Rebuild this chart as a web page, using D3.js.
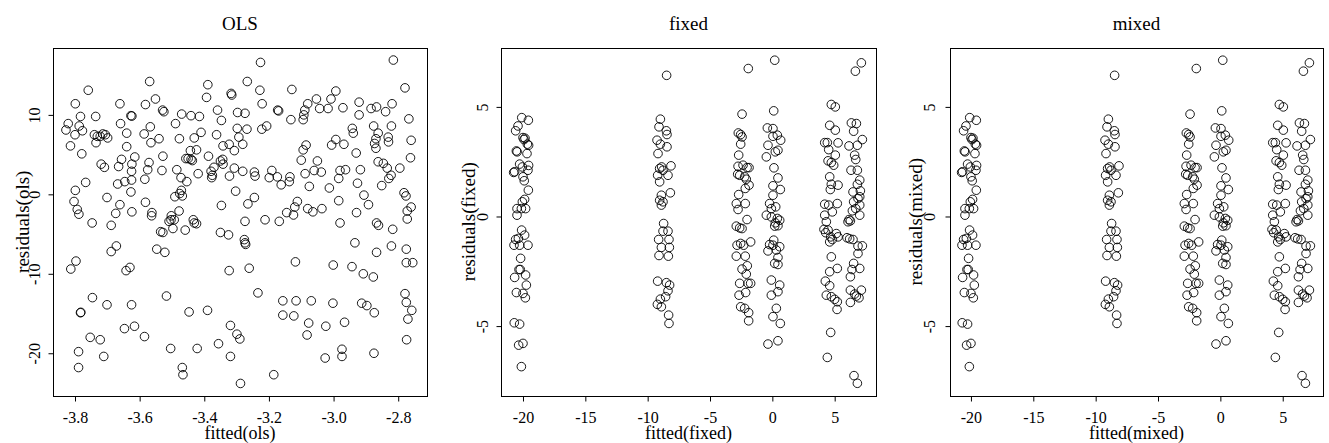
<!DOCTYPE html>
<html>
<head>
<meta charset="utf-8">
<script src="https://cdn.jsdelivr.net/npm/d3@7"></script>
<style>
  html, body { margin: 0; padding: 0; background: #fff; }
  svg { display: block; }
  text { font-family: "Liberation Serif", "DejaVu Serif", serif; fill: #000; }
</style>
</head>
<body>
<svg id="chart" width="1329" height="443"></svg>
<script>
// ---------------- data ----------------
const panelTitles = ["OLS", "fixed", "mixed"];
const xLabels = ["fitted(ols)", "fitted(fixed)", "fitted(mixed)"];
const yLabels = ["residuals(ols)", "residuals(fixed)", "residuals(mixed)"];

const olsXTicks = [-3.8, -3.6, -3.4, -3.2, -3.0, -2.8];
const olsYTicks = [-20, -10, 0, 10];
const lmmXTicks = [-20, -15, -10, -5, 0, 5];
const lmmYTicks = [-5, 0, 5];

// [fitted, residual]
const olsPoints = [[-2.815,16.9],[-3.226,16.6],[-3.569,14.2],[-3.389,13.8],[-3.267,14.2],[-3.759,13.1],[-3.317,12.7],[-3.315,12.5],[-3.228,13.1],[-3.129,13.2],[-2.993,13.0],[-2.779,13.4],[-3.393,12.2],[-3.551,12.0],[-3.053,12.0],[-3.008,12.0],[-3.799,11.4],[-3.661,11.4],[-3.582,11.3],[-3.221,11.4],[-2.921,11.6],[-2.819,11.4],[-3.080,11.4],[-3.529,10.6],[-3.525,10.4],[-3.359,10.6],[-3.173,10.6],[-3.170,10.5],[-3.089,10.6],[-3.043,10.8],[-3.017,10.8],[-2.971,10.9],[-2.884,10.8],[-2.867,11.0],[-2.839,10.4],[-3.274,10.2],[-3.297,10.3],[-3.470,10.1],[-3.441,9.9],[-3.627,9.9],[-3.624,9.85],[-3.783,9.8],[-3.736,9.8],[-3.092,10.0],[-3.094,9.4],[-2.921,10.0],[-2.767,9.5],[-3.132,9.4],[-3.347,9.3],[-3.415,9.8],[-3.489,8.9],[-3.659,8.9],[-3.821,8.9],[-3.207,8.6],[-3.222,8.2],[-3.787,8.6],[-3.567,8.5],[-3.298,8.3],[-3.268,8.2],[-2.942,8.3],[-2.876,8.6],[-2.821,8.6],[-3.828,8.1],[-3.777,8.0],[-3.800,7.5],[-3.740,7.5],[-3.640,7.7],[-3.586,7.6],[-3.410,7.8],[-3.362,7.5],[-2.939,7.7],[-2.862,7.7],[-3.722,7.3],[-3.714,7.6],[-3.706,7.5],[-3.731,7.3],[-3.699,7.1],[-3.735,6.5],[-3.540,7.0],[-3.477,7.0],[-3.431,7.1],[-3.293,7.2],[-2.993,6.9],[-2.831,7.2],[-2.760,6.8],[-2.869,7.0],[-2.873,6.4],[-2.830,6.6],[-3.565,6.5],[-3.281,6.3],[-3.323,6.3],[-3.085,6.2],[-2.968,6.3],[-3.006,6.2],[-3.342,6.1],[-3.814,6.1],[-3.640,6.0],[-3.094,5.6],[-2.869,5.8],[-3.307,5.5],[-3.443,5.5],[-3.424,5.6],[-2.930,5.2],[-3.779,5.1],[-3.528,4.8],[-3.387,4.8],[-3.615,4.7],[-3.450,4.5],[-3.441,4.4],[-3.437,4.25],[-3.457,4.5],[-3.343,4.4],[-2.762,4.6],[-3.656,4.4],[-3.100,4.3],[-3.350,4.2],[-3.050,4.2],[-2.862,4.1],[-2.846,3.9],[-3.571,4.0],[-3.719,3.8],[-3.624,3.8],[-3.709,3.4],[-3.665,3.5],[-3.342,3.8],[-3.370,3.4],[-2.795,3.3],[-2.834,3.3],[-3.307,3.3],[-3.575,3.1],[-3.531,3.0],[-3.485,3.1],[-3.379,2.9],[-3.281,2.9],[-3.245,2.8],[-3.191,3.0],[-2.980,3.0],[-2.963,3.1],[-2.917,3.1],[-3.625,2.9],[-3.088,2.6],[-3.060,3.0],[-3.038,2.8],[-3.419,2.6],[-3.375,2.4],[-3.322,2.3],[-3.243,2.3],[-2.822,2.4],[-2.829,2.0],[-3.472,2.1],[-3.377,2.1],[-3.174,2.2],[-3.199,2.1],[-3.135,2.2],[-3.137,1.6],[-3.625,1.8],[-3.584,1.9],[-2.984,2.0],[-3.767,1.5],[-3.646,1.6],[-3.454,1.6],[-3.162,1.2],[-3.668,1.3],[-2.926,1.4],[-2.851,1.1],[-3.075,1.0],[-3.013,0.8],[-3.471,0.5],[-3.799,0.5],[-3.627,0.3],[-3.303,0.4],[-3.476,0.1],[-2.782,0.2],[-3.491,-0.3],[-3.468,-0.2],[-3.701,-0.4],[-2.906,-0.1],[-2.776,-0.2],[-3.245,-0.4],[-3.803,-0.9],[-3.112,-0.9],[-2.984,-0.8],[-2.892,-1.3],[-3.265,-1.2],[-3.347,-1.4],[-3.661,-1.3],[-3.582,-1.0],[-3.120,-1.6],[-2.760,-1.6],[-3.793,-1.9],[-3.788,-2.5],[-3.080,-1.8],[-3.064,-2.2],[-3.036,-1.8],[-3.478,-2.1],[-3.624,-2.2],[-2.772,-2.1],[-3.562,-2.3],[-3.563,-2.7],[-3.674,-2.4],[-3.145,-2.3],[-3.124,-2.6],[-2.929,-2.3],[-3.502,-2.7],[-3.503,-3.2],[-3.493,-3.2],[-3.509,-3.4],[-3.274,-3.4],[-3.212,-3.2],[-3.168,-3.4],[-3.434,-3.2],[-3.431,-3.6],[-3.424,-3.7],[-2.772,-3.1],[-2.980,-3.6],[-2.867,-3.6],[-2.861,-3.9],[-3.747,-3.6],[-3.688,-3.9],[-3.497,-4.3],[-2.817,-4.4],[-3.459,-4.5],[-3.535,-4.7],[-3.528,-4.8],[-3.350,-4.8],[-3.325,-5.1],[-3.276,-5.7],[-3.274,-6.1],[-3.272,-6.3],[-2.934,-6.1],[-2.821,-6.5],[-3.672,-6.5],[-3.547,-6.9],[-3.522,-7.3],[-3.688,-7.2],[-2.775,-6.9],[-2.867,-7.3],[-3.797,-8.4],[-3.118,-8.5],[-2.775,-8.6],[-2.755,-8.6],[-3.813,-9.4],[-3.642,-9.6],[-3.630,-9.2],[-3.261,-9.3],[-3.001,-8.9],[-2.943,-9.1],[-3.323,-9.6],[-2.908,-10.0],[-2.877,-10.4],[-3.234,-12.4],[-3.517,-12.8],[-3.746,-13.0],[-2.779,-12.5],[-3.157,-13.4],[-3.116,-13.4],[-3.069,-13.4],[-2.775,-13.6],[-3.002,-13.7],[-2.913,-13.7],[-2.897,-14.0],[-3.701,-13.9],[-3.625,-13.9],[-3.783,-14.9],[-3.782,-14.85],[-3.447,-14.8],[-3.390,-14.6],[-2.874,-14.9],[-2.758,-14.6],[-3.157,-15.2],[-3.123,-15.3],[-2.770,-15.7],[-2.966,-16.1],[-3.077,-16.2],[-3.319,-16.5],[-3.616,-16.6],[-3.647,-16.9],[-3.024,-16.6],[-3.299,-17.6],[-3.290,-18.2],[-3.082,-17.7],[-3.585,-17.9],[-3.753,-18.0],[-3.722,-18.3],[-2.774,-18.3],[-3.356,-18.8],[-3.504,-19.4],[-3.422,-19.4],[-2.974,-19.5],[-3.789,-19.8],[-2.875,-20.0],[-2.974,-20.4],[-3.711,-20.4],[-3.319,-20.4],[-3.026,-20.6],[-3.789,-21.8],[-3.468,-21.8],[-3.466,-22.7],[-3.185,-22.7],[-3.288,-23.8]];

const fixedPoints = [
 // group near -20
 [-20.1,4.51],[-19.57,4.39],[-20.4,4.13],[-20.59,3.91],[-20.0,3.60],[-19.92,3.51],[-19.84,3.57],[-19.65,3.30],[-19.55,3.25],[-20.53,2.99],[-20.47,2.95],[-19.68,2.87],[-20.27,2.39],[-19.55,2.33],[-20.67,2.04],[-20.75,2.01],[-20.05,2.26],[-19.60,2.11],[-20.0,1.81],[-19.9,1.63],[-19.57,1.20],[-19.87,0.78],[-20.05,0.67],[-20.48,0.36],[-20.13,0.36],[-19.79,0.36],[-20.48,0.06],[-20.11,-0.62],[-19.87,-0.85],[-20.59,-1.05],[-20.37,-1.00],[-20.72,-1.31],[-20.27,-1.31],[-19.60,-1.31],[-20.19,-1.91],[-20.32,-2.42],[-20.22,-2.42],[-19.79,-2.67],[-20.67,-2.78],[-19.73,-3.13],[-20.53,-3.47],[-20.0,-3.51],[-19.81,-3.71],[-20.70,-4.85],[-20.27,-4.91],[-20.35,-5.87],[-20.0,-5.79],[-20.13,-6.85],
 // group near -9
 [-8.48,6.44],[-8.98,4.44],[-9.09,4.09],[-8.50,3.91],[-8.45,3.74],[-9.25,3.48],[-8.98,3.30],[-8.45,3.18],[-9.17,2.87],[-8.88,2.26],[-9.04,2.19],[-8.77,2.11],[-8.13,2.31],[-9.20,1.88],[-8.37,1.88],[-9.04,1.58],[-8.18,1.08],[-8.90,0.97],[-9.04,0.74],[-8.77,0.67],[-8.90,0.52],[-8.72,-0.32],[-8.77,-0.67],[-8.37,-0.67],[-9.12,-1.05],[-8.29,-1.05],[-8.90,-1.41],[-8.26,-1.41],[-9.09,-1.78],[-8.34,-1.81],[-9.20,-2.95],[-8.50,-3.02],[-8.24,-3.13],[-8.37,-3.39],[-8.56,-3.66],[-8.98,-3.77],[-9.22,-4.01],[-8.90,-4.12],[-8.32,-4.50],[-8.29,-4.88],
 // group near -2.5
 [-1.93,6.75],[-2.43,4.67],[-2.73,3.81],[-2.54,3.74],[-2.43,3.63],[-2.54,3.30],[-2.70,2.80],[-2.75,2.29],[-2.35,2.34],[-2.03,2.23],[-1.87,2.23],[-2.78,1.93],[-2.62,1.88],[-2.22,1.81],[-2.09,1.70],[-1.87,1.43],[-2.17,1.28],[-2.70,1.00],[-2.89,0.59],[-2.17,0.59],[-2.75,0.32],[-2.03,-0.14],[-2.89,-0.44],[-2.62,-0.52],[-2.43,-0.55],[-1.74,-1.16],[-2.83,-1.31],[-2.54,-1.23],[-2.30,-1.31],[-2.89,-1.81],[-2.17,-1.81],[-2.43,-2.40],[-2.01,-2.25],[-2.09,-2.63],[-2.62,-3.05],[-1.95,-3.05],[-1.74,-3.05],[-2.14,-3.47],[-2.67,-3.59],[-2.54,-4.12],[-2.22,-4.19],[-1.90,-4.39],[-1.90,-4.76],
 // group near 0
 [0.19,7.13],[0.11,4.82],[-0.40,4.04],[0.05,4.01],[0.05,3.66],[0.40,3.71],[0.67,3.48],[-0.35,3.25],[0.45,3.02],[0.24,2.95],[-0.48,2.72],[0.13,2.22],[0.45,1.76],[0.05,1.40],[0.64,1.23],[0.05,0.97],[-0.22,0.59],[0.27,0.44],[-0.08,0.36],[-0.48,0.06],[-0.08,-0.02],[0.40,-0.09],[0.59,-0.17],[0.24,-0.29],[0.19,-0.44],[0.45,-0.42],[0.11,-1.08],[-0.22,-1.28],[0.05,-1.31],[0.59,-1.38],[-0.35,-1.57],[0.32,-1.53],[0.45,-1.87],[0.19,-2.14],[0.45,-2.19],[-0.08,-2.90],[0.59,-3.13],[-0.08,-3.59],[0.45,-3.43],[0.32,-4.19],[0.05,-4.57],[0.64,-4.88],[-0.35,-5.82],[0.45,-5.67],
 // group near 4.6
 [4.73,5.11],[5.05,5.0],[4.60,4.16],[5.05,3.94],[4.20,3.37],[4.41,3.37],[5.27,3.36],[4.52,3.05],[5.05,2.80],[4.47,2.54],[4.73,2.46],[4.92,2.34],[4.60,1.81],[4.73,1.47],[5.27,1.43],[4.65,1.23],[5.21,0.59],[4.20,0.56],[4.52,0.52],[4.81,0.21],[4.20,0.06],[4.33,-0.24],[4.14,-0.59],[4.47,-0.62],[4.28,-0.74],[4.68,-0.93],[5.13,-0.78],[5.27,-0.93],[4.81,-1.05],[4.60,-1.16],[4.73,-1.84],[5.21,-2.37],[4.60,-2.52],[4.25,-2.95],[4.60,-3.16],[4.33,-3.59],[4.73,-3.66],[5.00,-3.78],[5.21,-3.89],[5.19,-4.24],[4.68,-5.29],[4.41,-6.43],
 // group near 6.7
 [7.14,7.01],[6.66,6.63],[6.34,4.27],[6.74,4.24],[6.52,3.89],[7.22,3.51],[6.15,3.22],[6.82,3.25],[6.60,2.80],[6.69,2.60],[6.31,2.11],[6.82,2.11],[7.01,1.66],[6.82,1.47],[6.47,1.12],[7.06,1.17],[7.01,0.90],[6.87,0.82],[6.52,0.67],[7.01,0.52],[6.42,0.26],[6.69,0.36],[7.01,0.06],[6.15,-0.14],[6.26,-0.20],[6.07,-0.24],[5.99,-0.97],[6.20,-1.02],[6.47,-1.05],[6.87,-1.35],[7.22,-1.34],[6.87,-1.69],[6.52,-2.14],[7.01,-2.37],[6.26,-2.75],[6.39,-2.42],[6.26,-3.36],[7.14,-3.36],[6.60,-3.54],[6.74,-3.63],[6.95,-3.71],[6.26,-3.92],[6.55,-7.26],[6.82,-7.61]
];
// the mixed-model fit gives the same picture as the fixed-effects fit
const mixedPoints = fixedPoints;

const xDomains = [[-3.869, -2.710], [-21.74, 8.29], [-21.68, 8.23]];
const yDomains = [[-25.38, 18.48], [-8.19, 7.71], [-8.19, 7.71]];

// ---------------- layout ----------------
const panels = [
  { left: 52.7, right: 427.3, pts: olsPoints,   xt: olsXTicks, yt: olsYTicks, tickOff: 19, labOff: 30 },
  { left: 501.3, right: 875.7, pts: fixedPoints, xt: lmmXTicks, yt: lmmYTicks, tickOff: 19, labOff: 33 },
  { left: 950,  right: 1323,  pts: mixedPoints, xt: lmmXTicks, yt: lmmYTicks, tickOff: 21, labOff: 35 }
];
const plotTop = 47.5, plotBottom = 396;
const tickFont = 16, labelFont = 18;
const svg = d3.select("#chart");

panels.forEach((p, i) => {
  const x = d3.scaleLinear().domain(xDomains[i]).range([p.left, p.right]);
  const y = d3.scaleLinear().domain(yDomains[i]).range([plotBottom, plotTop]);
  const g = svg.append("g");

  // box
  g.append("rect")
    .attr("x", Math.round(p.left) + 0.5).attr("y", Math.round(plotTop) + 0.5)
    .attr("width", Math.round(p.right) - Math.round(p.left))
    .attr("height", Math.round(plotBottom) - Math.round(plotTop))
    .attr("fill", "none").attr("stroke", "#000").attr("stroke-width", 1);

  // x axis (tick labels placed by baseline)
  const xa = d3.axisBottom(x).tickValues(p.xt).tickSize(5).tickPadding(0)
    .tickFormat(d => d3.format(i === 0 ? ".1f" : "d")(d).replace("\u2212", "-"));
  const gx = g.append("g").attr("transform", `translate(0,${Math.round(plotBottom) + 0.5})`).call(xa);
  gx.select(".domain").remove();
  gx.selectAll("text")
    .attr("font-size", tickFont).attr("font-family", "Liberation Serif, serif").attr("fill", "#000")
    .attr("y", 422.5 - (Math.round(plotBottom) + 0.5)).attr("dy", null);

  // y axis
  const ya = d3.axisLeft(y).tickValues(p.yt).tickSize(5)
    .tickFormat(d => d3.format("d")(d).replace("\u2212", "-"));
  const gy = g.append("g").attr("transform", `translate(${Math.round(p.left) + 0.5},0)`).call(ya);
  gy.select(".domain").remove();
  gy.selectAll("text")
    .attr("font-size", tickFont).attr("font-family", "Liberation Serif, serif").attr("fill", "#000")
    .attr("x", null).attr("dy", null)
    .attr("text-anchor", "middle").attr("dominant-baseline", "central")
    .attr("transform", `translate(${-p.tickOff},0) rotate(-90)`);

  // points
  g.append("g").selectAll("circle").data(p.pts).join("circle")
    .attr("cx", d => x(d[0])).attr("cy", d => y(d[1])).attr("r", 4.3)
    .attr("fill", "none").attr("stroke", "#000").attr("stroke-width", 0.9);

  const cx = (p.left + p.right) / 2;
  // title
  g.append("text").attr("x", cx).attr("y", 23).attr("text-anchor", "middle")
    .attr("dominant-baseline", "central").attr("font-size", 19).text(panelTitles[i]);
  // x label (baseline)
  g.append("text").attr("x", cx).attr("y", 439).attr("text-anchor", "middle")
    .attr("font-size", labelFont).text(xLabels[i]);
  // y label
  g.append("text").attr("text-anchor", "middle").attr("dominant-baseline", "central")
    .attr("transform", `translate(${p.left - p.labOff},${(plotTop + plotBottom) / 2}) rotate(-90)`)
    .attr("font-size", 19).text(yLabels[i]);
});
</script>
</body>
</html>
